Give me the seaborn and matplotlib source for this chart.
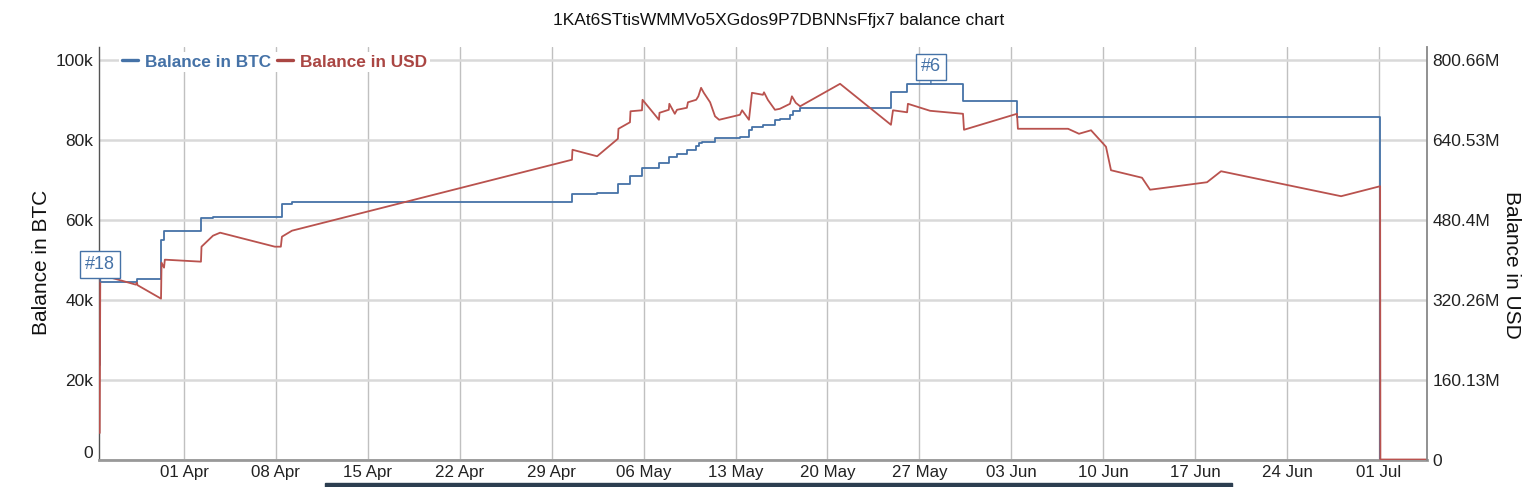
import matplotlib
matplotlib.use('Agg')
import matplotlib.pyplot as plt
import matplotlib.dates as mdates
from matplotlib.patches import Rectangle
from matplotlib.lines import Line2D
from matplotlib.transforms import ScaledTranslation
import seaborn as sns
import pandas as pd
import numpy as np

title = "1KAt6STtisWMMVo5XGdos9P7DBNNsFfjx7 balance chart"

btc_dates = ["2018-03-25 14:00", "2018-03-25 15:00", "2018-03-28 10:00", "2018-03-30 06:00",
             "2018-03-30 11:30", "2018-04-02 07:00", "2018-04-03 05:00", "2018-04-08 11:00",
             "2018-04-09 05:20", "2018-04-30 13:00", "2018-05-02 11:00", "2018-05-04 01:00",
             "2018-05-04 23:00", "2018-05-05 21:00", "2018-05-07 04:00", "2018-05-07 22:00",
             "2018-05-08 13:00", "2018-05-09 07:00", "2018-05-10 00:00", "2018-05-10 05:00",
             "2018-05-10 11:00", "2018-05-11 10:30", "2018-05-13 08:00", "2018-05-14 00:30",
             "2018-05-14 06:00", "2018-05-15 02:00", "2018-05-16 00:00", "2018-05-16 09:00",
             "2018-05-17 03:30", "2018-05-17 09:00", "2018-05-17 22:00", "2018-05-24 20:00",
             "2018-05-26 01:30", "2018-05-30 07:40", "2018-06-03 10:20", "2018-07-01 02:00",
             "2018-07-04 15:40"]
btc_values = [23600, 44400, 45100, 55000,
              57100, 60400, 60700, 63900,
              64400, 66400, 66700, 68900,
              70900, 72900, 74200, 75600,
              76400, 77400, 78400, 79100,
              79500, 80500, 80700, 82400,
              83100, 83600, 84900, 85100,
              86100, 87200, 88000, 91800,
              93800, 89700, 85700, 0,
              0]

usd_dates = ["2018-03-25 14:00", "2018-03-25 15:00", "2018-03-28 08:00", "2018-03-28 10:00",
             "2018-03-28 11:00", "2018-03-30 06:00", "2018-03-30 07:00", "2018-03-30 11:30",
             "2018-03-30 13:00", "2018-04-02 07:00", "2018-04-02 08:00", "2018-04-03 05:00",
             "2018-04-03 18:00", "2018-04-07 22:00", "2018-04-08 09:00", "2018-04-08 11:00",
             "2018-04-09 05:20", "2018-04-30 13:00", "2018-04-30 14:00", "2018-05-02 11:00",
             "2018-05-04 01:00", "2018-05-04 02:00", "2018-05-04 23:00", "2018-05-05 00:00",
             "2018-05-05 21:00", "2018-05-05 22:00", "2018-05-07 04:00", "2018-05-07 05:00",
             "2018-05-07 22:00", "2018-05-07 23:00", "2018-05-08 09:00", "2018-05-08 13:00",
             "2018-05-09 07:00", "2018-05-09 09:00", "2018-05-10 00:00", "2018-05-10 04:00",
             "2018-05-10 09:00", "2018-05-10 14:00", "2018-05-11 01:30", "2018-05-11 10:30",
             "2018-05-11 18:00", "2018-05-13 08:00", "2018-05-13 12:00", "2018-05-14 00:30",
             "2018-05-14 06:00", "2018-05-15 02:00", "2018-05-15 04:00", "2018-05-15 11:00",
             "2018-05-16 00:00", "2018-05-16 09:00", "2018-05-17 03:30", "2018-05-17 07:00",
             "2018-05-17 14:00", "2018-05-17 22:00", "2018-05-20 23:00", "2018-05-24 20:00",
             "2018-05-24 23:45", "2018-05-26 01:30", "2018-05-26 03:00", "2018-05-27 19:30",
             "2018-05-30 07:40", "2018-05-30 09:30", "2018-06-03 10:20", "2018-06-03 12:00",
             "2018-06-07 07:40", "2018-06-08 03:40", "2018-06-09 01:40", "2018-06-10 05:00",
             "2018-06-10 14:10", "2018-06-12 22:50", "2018-06-13 13:30", "2018-06-17 21:40",
             "2018-06-18 23:15", "2018-06-28 02:40", "2018-07-01 02:00", "2018-07-01 02:30",
             "2018-07-04 15:40"]
usd_values_m = [53, 370, 350, 354,
                349, 322, 394, 384,
                400, 396, 426, 448,
                454, 426, 426, 446,
                458, 600, 620, 607,
                642, 662, 675, 697,
                699, 720, 680, 694,
                700, 712, 692, 700,
                704, 715, 720, 727,
                744, 734, 715, 687,
                680, 690, 699, 680,
                734, 730, 735, 720,
                700, 702, 712, 727,
                714, 707, 752, 670,
                699, 695, 712, 698,
                692, 660, 692, 662,
                662, 652, 659, 626,
                579, 564, 540, 555,
                577, 527, 547, 0,
                0]

x_tick_dates = ["2018-04-01", "2018-04-08", "2018-04-15", "2018-04-22", "2018-04-29",
                "2018-05-06", "2018-05-13", "2018-05-20", "2018-05-27", "2018-06-03",
                "2018-06-10", "2018-06-17", "2018-06-24", "2018-07-01"]
x_tick_labels = ["01 Apr", "08 Apr", "15 Apr", "22 Apr", "29 Apr", "06 May", "13 May",
                 "20 May", "27 May", "03 Jun", "10 Jun", "17 Jun", "24 Jun", "01 Jul"]
btc_ticks = [0, 20000, 40000, 60000, 80000, 100000]
btc_tick_labels = ["0", "20k", "40k", "60k", "80k", "100k"]
usd_tick_labels = ["0", "160.13M", "320.26M", "480.4M", "640.53M", "800.66M"]
usd_axis_factor = 8006.6

flag_labels = ["#18", "#6"]
flag_dates = ["2018-03-25 15:00", "2018-05-27 21:00"]
flag_values = [44400, 93800]

x_range = ["2018-03-25 12:40", "2018-07-04 15:40"]
btc_range = [0, 103125]

blue = "#4572A7"
red = "#AA4643"
red_line = "#B9524E"

sns.set_style("white")
plt.rcParams['font.family'] = ['Liberation Sans', 'DejaVu Sans']

W, H = 1535, 487
fig = plt.figure(figsize=(W / 100, H / 100), dpi=100)
ax = fig.add_axes([99 / W, 1 - 459.5 / H, (1427 - 99) / W, (459.5 - 47) / H])
ax2 = ax.twinx()

btc_df = pd.DataFrame({"date": pd.to_datetime(btc_dates), "btc": btc_values})
usd_df = pd.DataFrame({"date": pd.to_datetime(usd_dates), "usd": np.array(usd_values_m) * 1e6})

sns.lineplot(data=btc_df, x="date", y="btc", ax=ax, color=blue, lw=1.3,
             drawstyle="steps-post", estimator=None, sort=False, legend=False)
sns.lineplot(data=usd_df, x="date", y="usd", ax=ax2, color=red_line, lw=1.3,
             estimator=None, sort=False, legend=False)

ax.set_xlim(pd.Timestamp(x_range[0]), pd.Timestamp(x_range[1]))
ax.set_ylim(*btc_range)
ax2.set_ylim(btc_range[0] * usd_axis_factor, btc_range[1] * usd_axis_factor)

ax.set_xticks(pd.to_datetime(x_tick_dates))
ax.set_xticklabels(x_tick_labels)
ax.set_yticks(btc_ticks)
ax.set_yticklabels(btc_tick_labels)
ax2.set_yticks([t * usd_axis_factor for t in btc_ticks])
ax2.set_yticklabels(usd_tick_labels)

ax.set_xlabel("")
ax.set_ylabel("")
ax2.set_ylabel("")

ax.grid(axis="y", color="#d9d9d9", lw=1.8)
ax.grid(axis="x", color="#c0c0c0", lw=1.0)
ax2.grid(False)
ax.set_axisbelow(True)

for a in (ax, ax2):
    a.spines["top"].set_visible(False)
ax.spines["right"].set_visible(False)
ax2.spines["left"].set_visible(False)
ax2.spines["bottom"].set_visible(False)
ax.spines["left"].set_color("#555555")
ax.spines["left"].set_linewidth(1.0)
ax.spines["bottom"].set_color("#999999")
ax.spines["bottom"].set_linewidth(2.0)
ax2.spines["right"].set_color("#888888")
ax2.spines["right"].set_linewidth(1.3)

ax.tick_params(axis="y", length=0, pad=4, labelsize=12.5, labelcolor="#222222")
ax.tick_params(axis="x", length=0, pad=4, labelsize=12.2, labelcolor="#222222")
ax2.tick_params(axis="y", length=0, pad=4, labelsize=12.5, labelcolor="#222222")

zero_lbl = ax.get_yticklabels()[0]
zero_lbl.set_transform(zero_lbl.get_transform() + ScaledTranslation(0, 7 / 100, fig.dpi_scale_trans))

for lab, d, v in zip(flag_labels, flag_dates, flag_values):
    ax2.annotate(lab, xy=(mdates.date2num(pd.Timestamp(d)), v), xycoords=ax.transData,
                 xytext=(0, 12.5), textcoords="offset points", ha="center", va="center",
                 fontsize=13, color=blue,
                 bbox=dict(boxstyle="square,pad=0.27", fc="white", ec=blue, lw=1.0),
                 arrowprops=dict(arrowstyle="-", color=blue, lw=1.0, shrinkA=0, shrinkB=0),
                 zorder=10)

handles = [Line2D([0], [0], color=blue, lw=2.4), Line2D([0], [0], color=red, lw=2.4)]
leg = ax2.legend(handles, ["Balance in BTC", "Balance in USD"], loc="center left",
                 bbox_to_anchor=(119 / W, 1 - 62 / H), bbox_transform=fig.transFigure,
                 ncol=2, frameon=True, facecolor="white", edgecolor="none", framealpha=1,
                 handlelength=0.95, handletextpad=0.4, columnspacing=0.35, borderpad=0.15,
                 borderaxespad=0, prop={"weight": "bold", "size": 12.4})
for t, c in zip(leg.get_texts(), [blue, red]):
    t.set_color(c)
leg.set_zorder(20)

fig.text(779 / W, 1 - 20 / H, title, ha="center", va="center", fontsize=12.5, color="#111111")
fig.text(42 / W, 1 - 262 / H, "Balance in BTC", rotation=90, ha="center", va="center",
         fontsize=15, color="#111111")
fig.text(1511 / W, 1 - 265 / H, "Balance in USD", rotation=270, ha="center", va="center",
         fontsize=15, color="#111111")

fig.patches.append(Rectangle((325 / W, 0), (1232 - 325) / W, 4 / H, transform=fig.transFigure,
                             color="#2c3e50", zorder=0))

fig.savefig("out.png", dpi=100)
